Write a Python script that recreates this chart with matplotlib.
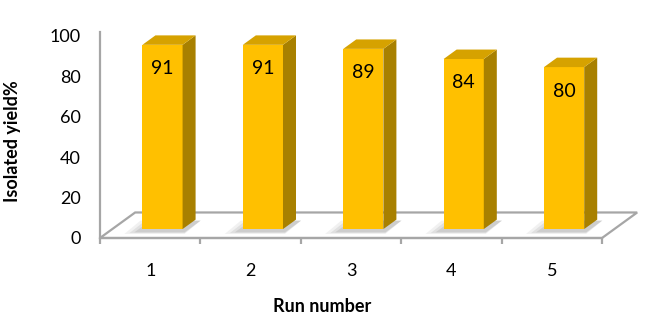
import matplotlib
matplotlib.use("Agg")
import matplotlib.pyplot as plt
from matplotlib.patches import Polygon

plt.rcParams['font.family'] = ['Lato', 'DejaVu Sans']

runs = ["1", "2", "3", "4", "5"]
yields = [91, 91, 89, 84, 80]
yticks = [0, 20, 40, 60, 80, 100]

FRONT = "#FFC000"
TOP = "#D6A200"
SIDE = "#A88000"
GRID = "#A6A6A6"

# pseudo-3D projection parameters (in data units)
FLOOR_DX, FLOOR_DV = 0.35, 12.6      # full floor depth offset
D0, DB = 0.35, 0.37                  # bar front depth fraction, bar depth fraction
BAR_W, BAR_START = 0.40, 0.30

W, H = 646, 319
fig = plt.figure(figsize=(W / 100, H / 100), dpi=100)
ax = fig.add_axes([90 / W, (H - 245) / H, 554 / W, 220 / H])
ax.set_xlim(-0.0996, 5.418)
ax.set_ylim(-3.46, 105.2)

n = len(yields)
# floor
floor = Polygon([(0, 0), (n, 0), (n + FLOOR_DX, FLOOR_DV), (FLOOR_DX, FLOOR_DV)],
                closed=True, facecolor="white", edgecolor=GRID, lw=1.6, zorder=1,
                joinstyle="miter", clip_on=False)
ax.add_patch(floor)

dx, dv = DB * FLOOR_DX, DB * FLOOR_DV
base = D0 * FLOOR_DV
lefts = [i + BAR_START + D0 * FLOOR_DX for i in range(n)]

# soft shadows on the floor
for i, (xl, v) in enumerate(zip(lefts, yields)):
    for k, a in enumerate([0.10, 0.14, 0.18]):
        s = 0.05 * (3 - k)
        shp = Polygon([(xl - s - 0.03, base - 1.2 - s * 8), (xl + BAR_W + 0.02, base - 1.2 - s * 8),
                       (xl + BAR_W + dx + 0.05, base + dv - 0.5), (xl + dx - s, base + dv - 0.5)],
                      closed=True, facecolor="#7a7a7a", edgecolor="none", alpha=a, zorder=2)
        ax.add_patch(shp)

# bars: front faces via bar, side/top faces from the same values
ax.bar(lefts, yields, width=BAR_W, bottom=base, align="edge", color=FRONT,
       edgecolor="none", zorder=3)
for xl, v in zip(lefts, yields):
    xr = xl + BAR_W
    top = base + v
    side = Polygon([(xr, base), (xr + dx, base + dv), (xr + dx, top + dv), (xr, top)],
                   closed=True, facecolor=SIDE, edgecolor="none", zorder=3)
    topf = Polygon([(xl, top), (xr, top), (xr + dx, top + dv), (xl + dx, top + dv)],
                   closed=True, facecolor=TOP, edgecolor="none", zorder=3)
    ax.add_patch(side)
    ax.add_patch(topf)
    ax.annotate(f"{v}", (xl + BAR_W / 2, top), xytext=(0, -24), textcoords="offset pixels",
                ha="center", va="center", fontsize=14, color="black", zorder=4)

# axes styling
for s in ["top", "right"]:
    ax.spines[s].set_visible(False)
ax.spines["left"].set_position(("data", 0))
ax.spines["left"].set_bounds(0, 101.5)
ax.spines["left"].set_color(GRID)
ax.spines["left"].set_linewidth(1.6)
ax.spines["bottom"].set_position(("data", 0))
ax.spines["bottom"].set_bounds(0, n)
ax.spines["bottom"].set_color(GRID)
ax.spines["bottom"].set_linewidth(1.6)

ax.set_yticks(yticks)
ax.set_yticklabels([str(t) for t in yticks], fontsize=13)
ax.tick_params(axis="y", length=0, pad=14)

ax.set_xticks(range(n + 1))
ax.set_xticklabels([""] * (n + 1))
ax.set_xticks([i + 0.5 for i in range(n)], minor=True)
ax.set_xticklabels(runs, minor=True, fontsize=13)
ax.tick_params(axis="x", which="major", length=4, width=1.6, color=GRID, direction="out")
ax.tick_params(axis="x", which="minor", length=0, pad=18)

fig.text(13 / W, 1 - 141 / H, "Isolated yield%", rotation=90, ha="center", va="center",
         fontsize=13, fontweight="bold")
fig.text(322 / W, 1 - 307 / H, "Run number", ha="center", va="center",
         fontsize=13, fontweight="bold")

fig.savefig("out.png", dpi=100)
